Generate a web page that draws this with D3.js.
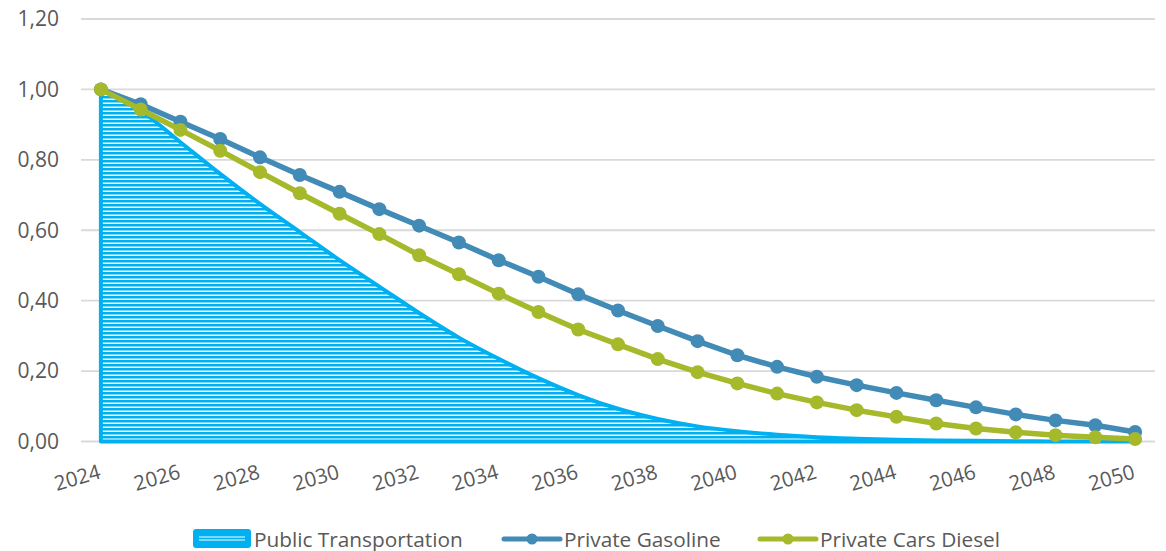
<!DOCTYPE html>
<html>
<head>
<meta charset="utf-8">
<script src="https://cdn.jsdelivr.net/npm/d3@7"></script>
<style>
  body { margin: 0; background: #fff; }
  text { font-family: "Open Sans", sans-serif; fill: #595959; }
</style>
</head>
<body>
<div id="chart"></div>
<script>
// data
var years = [2024, 2025, 2026, 2027, 2028, 2029, 2030, 2031, 2032, 2033, 2034, 2035, 2036, 2037,
             2038, 2039, 2040, 2041, 2042, 2043, 2044, 2045, 2046, 2047, 2048, 2049, 2050];
var publicTransport = [1.00, 0.94, 0.85, 0.76, 0.675, 0.595, 0.515, 0.44, 0.365, 0.295, 0.235, 0.18, 0.132, 0.093,
                       0.064, 0.043, 0.029, 0.019, 0.012, 0.008, 0.005, 0.003, 0.002, 0.001, 0.0, 0.0, 0.0];
var privateGasoline = [1.00, 0.958, 0.908, 0.859, 0.807, 0.757, 0.709, 0.660, 0.613, 0.565, 0.515, 0.468, 0.418, 0.372,
                       0.328, 0.285, 0.245, 0.212, 0.184, 0.160, 0.138, 0.117, 0.097, 0.077, 0.060, 0.046, 0.027];
var privateDiesel = [1.00, 0.943, 0.885, 0.826, 0.765, 0.705, 0.647, 0.589, 0.529, 0.475, 0.420, 0.368, 0.318, 0.276,
                     0.234, 0.197, 0.165, 0.136, 0.111, 0.089, 0.070, 0.051, 0.037, 0.026, 0.018, 0.012, 0.007];
var yTicks = [0, 0.2, 0.4, 0.6, 0.8, 1.0, 1.2];
var xLabels = [2024, 2026, 2028, 2030, 2032, 2034, 2036, 2038, 2040, 2042, 2044, 2046, 2048, 2050];

var width = 1166, height = 551;
var cyan = "#00B0F0", blue = "#428BB7", green = "#A6B92B";

var locale = d3.formatLocale({ decimal: ",", thousands: ".", grouping: [3], currency: ["", ""] });
var fmt = locale.format(".2f");

var svg = d3.select("#chart").append("svg")
    .attr("width", width)
    .attr("height", height);

var x = d3.scaleBand().domain(years).range([81, 1155]).padding(0);
var cx = function(d) { return x(d) + x.bandwidth() / 2; };
var y = d3.scaleLinear().domain([0, 1.2]).range([441.5, 19]);

// hatch pattern for the area
var pat = svg.append("defs").append("pattern")
    .attr("id", "hatch")
    .attr("patternUnits", "userSpaceOnUse")
    .attr("width", 8).attr("height", 4);
pat.append("rect").attr("width", 8).attr("height", 4).attr("fill", "#fff");
pat.append("rect").attr("width", 8).attr("height", 2.5).attr("fill", cyan);

// gridlines
svg.append("g").selectAll("line")
  .data(yTicks).enter().append("line")
    .attr("x1", 81).attr("x2", 1155)
    .attr("y1", function(d) { return y(d); })
    .attr("y2", function(d) { return y(d); })
    .attr("stroke", "#D9D9D9")
    .attr("stroke-width", 1.8);

// y labels
svg.append("g").selectAll("text")
  .data(yTicks).enter().append("text")
    .attr("x", 59)
    .attr("y", function(d) { return y(d); })
    .attr("dy", "0.35em")
    .attr("text-anchor", "end")
    .style("font-size", "21px")
    .text(function(d) { return fmt(d); });

// x labels (rotated)
svg.append("g").selectAll("text")
  .data(xLabels).enter().append("text")
    .attr("transform", function(d) { return "translate(" + (cx(d) + 1) + ",478) rotate(-16)"; })
    .attr("text-anchor", "end")
    .style("font-size", "20.5px")
    .text(function(d) { return d; });

// public transportation area
var ptData = years.map(function(yr, i) { return { year: yr, v: publicTransport[i] }; });
var area = d3.area()
    .x(function(d) { return cx(d.year); })
    .y0(y(0))
    .y1(function(d) { return y(d.v); })
    .curve(d3.curveMonotoneX);
svg.append("path")
    .datum(ptData)
    .attr("d", area)
    .attr("fill", "url(#hatch)")
    .attr("stroke", cyan)
    .attr("stroke-width", 4)
    .attr("stroke-linejoin", "round");

// line series
function drawSeries(values, color) {
  var pts = years.map(function(yr, i) { return { year: yr, v: values[i] }; });
  var line = d3.line()
      .x(function(d) { return cx(d.year); })
      .y(function(d) { return y(d.v); });
  var g = svg.append("g");
  g.append("path")
      .datum(pts)
      .attr("d", line)
      .attr("fill", "none")
      .attr("stroke", color)
      .attr("stroke-width", 5.5)
      .attr("stroke-linejoin", "round");
  g.selectAll("circle")
    .data(pts).enter().append("circle")
      .attr("cx", function(d) { return cx(d.year); })
      .attr("cy", function(d) { return y(d.v); })
      .attr("r", 7)
      .attr("fill", color);
}
drawSeries(privateGasoline, blue);
drawSeries(privateDiesel, green);

// legend
var legend = svg.append("g").attr("class", "legend");
legend.append("rect")
    .attr("x", 193).attr("y", 529).attr("width", 58).attr("height", 19)
    .attr("rx", 3).attr("fill", cyan);
[537, 540].forEach(function(ly) {
  legend.append("line")
      .attr("x1", 199).attr("x2", 245).attr("y1", ly).attr("y2", ly)
      .attr("stroke", "#fff").attr("stroke-width", 1);
});
legend.append("text").attr("x", 254).attr("y", 546.5)
    .style("font-size", "20.8px").text("Public Transportation");

var lineItems = [
  { name: "Private Gasoline", color: blue, x0: 504 },
  { name: "Private Cars Diesel", color: green, x0: 760 }
];
lineItems.forEach(function(it) {
  legend.append("line")
      .attr("x1", it.x0).attr("x2", it.x0 + 56).attr("y1", 539).attr("y2", 539)
      .attr("stroke", it.color).attr("stroke-width", 5).attr("stroke-linecap", "round");
  legend.append("circle")
      .attr("cx", it.x0 + 28).attr("cy", 539).attr("r", 5.5).attr("fill", it.color);
  legend.append("text").attr("x", it.x0 + 60).attr("y", 546.5)
      .style("font-size", "20.8px").text(it.name);
});
</script>
</body>
</html>
